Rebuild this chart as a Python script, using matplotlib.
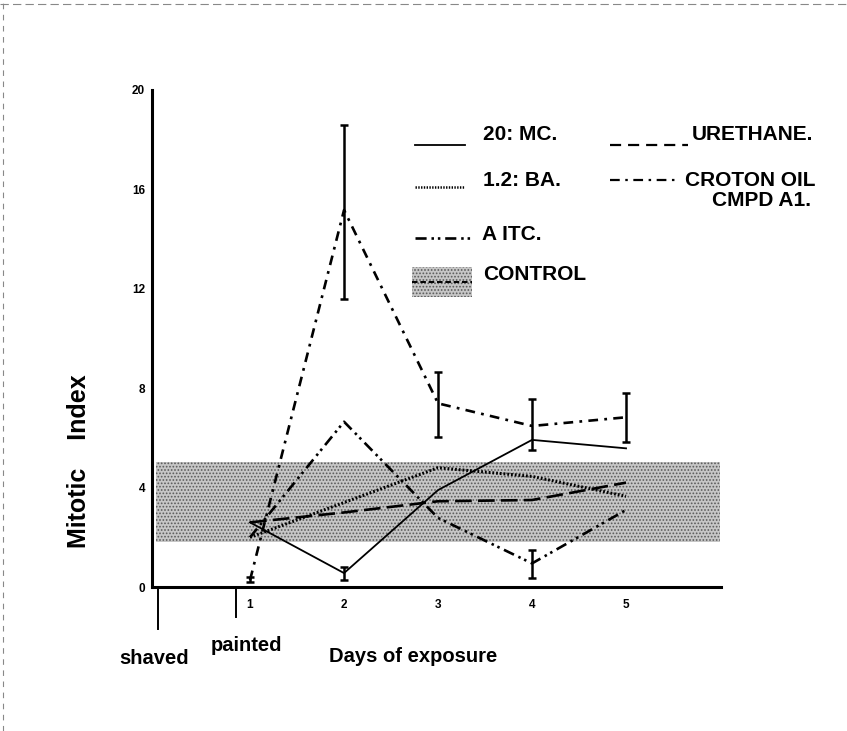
import matplotlib
matplotlib.use("Agg")
import matplotlib.pyplot as plt
from matplotlib.lines import Line2D
from matplotlib.patches import Rectangle

plt.rcParams['font.family'] = ['Liberation Sans', 'DejaVu Sans']
plt.rcParams['font.weight'] = 'bold'
plt.rcParams['lines.scale_dashes'] = False
plt.rcParams['hatch.linewidth'] = 0.8
plt.rcParams['hatch.color'] = '#5a5a5a'

# ---- data: mitotic index by day of exposure ----
days = [1, 2, 3, 4, 5]
mc_20 = [2.6, 0.56, 3.9, 5.92, 5.58]          # 20: MC.
ba_12 = [2.0, 3.4, 4.8, 4.45, 3.65]           # 1.2: BA.
aitc = [2.0, 6.65, 2.78, 0.95, 3.1]           # AITC.
urethane = [2.6, 3.0, 3.45, 3.5, 4.2]         # URETHANE.
croton = [0.28, 15.17, 7.39, 6.48, 6.83]      # CROTON OIL CMPD A1.

croton_low = [0.21, 11.6, 6.02, 5.51, 5.85]
croton_high = [0.41, 18.6, 8.66, 7.57, 7.82]
mc_err_day = [2]
mc_err_low = [0.28]
mc_err_high = [0.82]
aitc_err_day = [4]
aitc_err_low = [0.36]
aitc_err_high = [1.49]

control_low, control_high = 1.82, 5.04
control_span = (0, 6)

y_ticks = [0, 4, 8, 12, 16, 20]

W, H = 847, 731
fig = plt.figure(figsize=(W / 100, H / 100), dpi=100)
ax = fig.add_axes([152 / W, 1 - 587 / H, (720.7 - 152) / W, (587 - 90) / H])
ax.set_xlim(-0.043, 6.007)
ax.set_ylim(0, 20)

for s in ('top', 'right'):
    ax.spines[s].set_visible(False)
for s in ('left', 'bottom'):
    ax.spines[s].set_linewidth(2.2)

ax.set_yticks(y_ticks)
ax.set_xticks(days)
ax.tick_params(axis='y', length=0, pad=5, labelsize=8.5)
ax.tick_params(axis='x', length=0, pad=9, labelsize=8.5)
for lab in ax.get_xticklabels() + ax.get_yticklabels():
    lab.set_fontweight('bold')

BAND_FACE = '#c6c6c6'
BAND_HATCH = '.....'

# control range band
ax.fill_between(control_span, control_low, control_high, facecolor=BAND_FACE,
                hatch=BAND_HATCH, edgecolor='#5a5a5a', linewidth=0, zorder=1)

k = 'black'
DOT = (1.3, 1.4)
AITC_DASH = (8, 3.5, 1.8, 2.8, 1.8, 3.5)
URE_DASH = (12, 4.5)
CROTON_DASH = (7, 4.5, 2.0, 4.5)

ax.plot(days, mc_20, color=k, lw=1.3, zorder=3)
ax.plot(days, ba_12, color=k, lw=2.2, dashes=DOT, zorder=3)
ax.plot(days, aitc, color=k, lw=1.9, dashes=AITC_DASH, zorder=3)
ax.plot(days, urethane, color=k, lw=1.9, dashes=URE_DASH, zorder=3)
ax.plot(days, croton, color=k, lw=1.9, dashes=CROTON_DASH, zorder=3)


def bars(xs, ys, lo, hi):
    ax.errorbar(xs, ys,
                yerr=[[y - l for y, l in zip(ys, lo)], [h - y for y, h in zip(ys, hi)]],
                fmt='none', ecolor=k, elinewidth=1.8, capsize=3.2, capthick=1.8, zorder=4)


bars(days, croton, croton_low, croton_high)
bars(mc_err_day, [mc_20[1]], mc_err_low, mc_err_high)
bars(aitc_err_day, [aitc[3]], aitc_err_low, aitc_err_high)

# markers below the axis
ax.plot([0.02, 0.02], [0, -1.69], color=k, lw=1.4, clip_on=False)
ax.plot([0.85, 0.85], [0, -1.21], color=k, lw=1.4, clip_on=False)
ax.text(-0.02, -2.86, 'shaved', ha='center', va='center', fontsize=14.5,
        fontweight='bold', clip_on=False)
ax.text(0.96, -2.37, 'painted', ha='center', va='center', fontsize=14.5,
        fontweight='bold', clip_on=False)
ax.text(2.74, -2.78, 'Days of exposure', ha='center', va='center', fontsize=14.5,
        fontweight='bold', clip_on=False)

fig.text(79 / W, 1 - 461 / H, 'Mitotic    Index', rotation=90, ha='center',
         va='center', fontsize=18, fontweight='bold')


# ---- legend, placed in figure pixels ----
def fx(x):
    return x / W


def fy(y):
    return 1 - y / H


def sample(x0, x1, y, **kw):
    fig.add_artist(Line2D([fx(x0), fx(x1)], [fy(y), fy(y)], color=k,
                          transform=fig.transFigure, **kw))


def label(x, y, s):
    fig.text(fx(x), fy(y), s, ha='left', va='center', fontsize=15,
             fontweight='bold')


sample(415, 465, 145, lw=1.3)
label(483, 135, '20: MC.')
sample(415, 465, 187, lw=1.8, dashes=(1.0, 1.0))
label(483, 180, '1.2: BA.')
sample(415, 472, 238, lw=1.9, dashes=AITC_DASH)
label(482, 234, 'A ITC.')
fig.add_artist(Rectangle((fx(412), fy(297)), fx(472) - fx(412), fy(267) - fy(297),
                         transform=fig.transFigure, facecolor=BAND_FACE,
                         hatch=BAND_HATCH, edgecolor='#5a5a5a', linewidth=0))
sample(412, 472, 282, lw=1.4, dashes=(4, 2))
label(483, 274, 'CONTROL')
sample(610, 688, 145, lw=1.6, dashes=(8, 5))
label(692, 135, 'URETHANE.')
sample(610, 680, 180, lw=1.6, dashes=(7, 4, 1.8, 4))
label(685, 180, 'CROTON OIL')
label(712, 200, 'CMPD A1.')

# faint page edges
fig.add_artist(Line2D([0, 1], [fy(4), fy(4)], color='#888888', lw=0.8,
                      dashes=(6, 3), transform=fig.transFigure))
fig.add_artist(Line2D([fx(3), fx(3)], [0, 1], color='#888888', lw=0.8,
                      dashes=(4, 4), transform=fig.transFigure))

fig.savefig('out.png', dpi=100)
